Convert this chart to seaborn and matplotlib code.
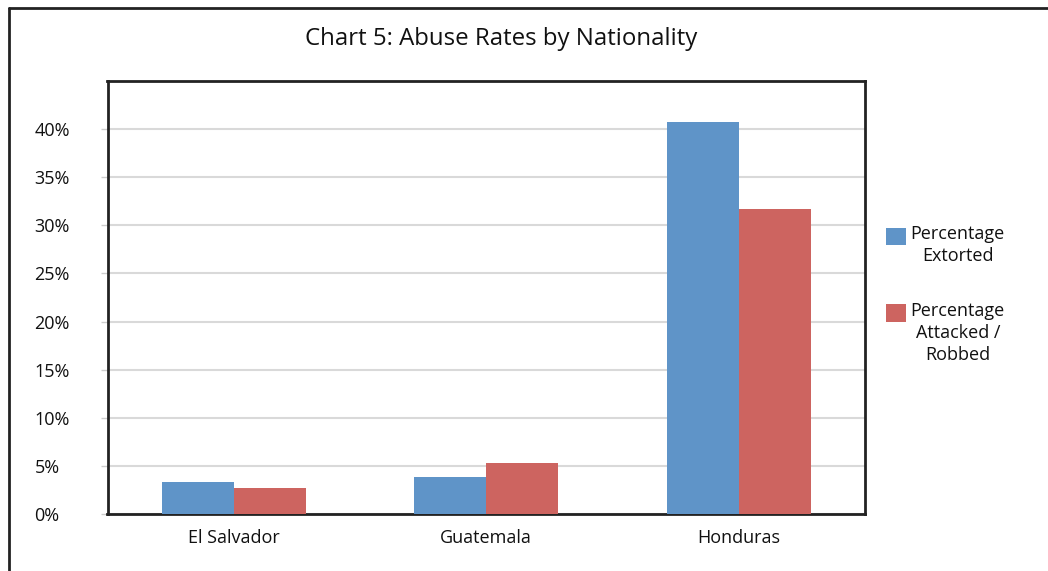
import matplotlib
matplotlib.use("Agg")
import matplotlib.pyplot as plt
from matplotlib.lines import Line2D
import pandas as pd
import seaborn as sns

# Data
countries = ["El Salvador", "Guatemala", "Honduras"]
series_names = ["Percentage\nExtorted", "Percentage\nAttacked /\nRobbed"]
extorted = [3.3, 3.8, 40.7]
attacked_robbed = [2.7, 5.3, 31.7]
y_ticks = [0, 5, 10, 15, 20, 25, 30, 35, 40]
y_tick_labels = ["0%", "5%", "10%", "15%", "20%", "25%", "30%", "35%", "40%"]
title = "Chart 5: Abuse Rates by Nationality"

colors = ["#5F94C8", "#CD6460"]

df = pd.DataFrame({
    "Country": countries * 2,
    "Series": [series_names[0]] * len(countries) + [series_names[1]] * len(countries),
    "Value": extorted + attacked_robbed,
})

sns.set_theme(style="white")
plt.rcParams["font.family"] = ["Open Sans", "DejaVu Sans"]

W, H = 1048, 571
fig = plt.figure(figsize=(W / 100, H / 100), dpi=100)
fig.patch.set_facecolor("white")

left, right, top, bottom = 107.5, 865, 81, 514
ax = fig.add_axes([left / W, 1 - bottom / H, (right - left) / W, (bottom - top) / H])

sns.barplot(data=df, x="Country", y="Value", hue="Series", order=countries,
            hue_order=series_names, palette=colors, width=0.57,
            saturation=1, linewidth=0, ax=ax, zorder=3)

ax.set_xlim(-0.5, 2.5)
ax.set_ylim(0, 45)
ax.set_yticks(y_ticks)
ax.set_yticklabels(y_tick_labels, fontsize=13, color="#111111", ha="left")
ax.tick_params(axis="y", length=5, width=1, color="#CCCCCC", pad=47.5, left=True)
ax.tick_params(axis="x", length=0, pad=11, labelsize=13, labelcolor="#111111")
ax.set_xlabel("")
ax.set_ylabel("")
ax.yaxis.grid(True, color="#D9D9D9", linewidth=1.5, zorder=0)
ax.set_axisbelow(True)
for s in ax.spines.values():
    s.set_visible(True)
    s.set_color("#222222")
    s.set_linewidth(2)

# Legend to the right of the plot area, swatches level with the first text line
legend_fs = 13
line_sp = 1.27
handles, labels = ax.get_legend_handles_labels()
ax.legend_.remove()
leg = fig.legend(handles, labels, loc="upper left",
                 bbox_to_anchor=(870 / W, 1 - 209 / H), frameon=False,
                 fontsize=legend_fs, handlelength=1.1, handleheight=1.1,
                 handletextpad=0.25, labelspacing=2.05)
for h, t in zip(leg.legend_handles, leg.get_texts()):
    t.set_multialignment("center")
    t.set_linespacing(line_sp)
    t.set_color("#111111")
    n = t.get_text().count("\n")
    h.set_y(h.get_y() + n * legend_fs * line_sp / 2 - 1.5)

fig.text(501 / W, 1 - 39 / H, title, ha="center", va="center",
         fontsize=17.3, color="#111111")

# Outer frame lines along the top and left
fig.add_artist(Line2D([9 / W, 1.0], [1 - 8 / H, 1 - 8 / H],
                      transform=fig.transFigure, color="#222222", linewidth=2))
fig.add_artist(Line2D([9 / W, 9 / W], [0, 1 - 8 / H],
                      transform=fig.transFigure, color="#222222", linewidth=2))

fig.savefig("out.png", dpi=100)
